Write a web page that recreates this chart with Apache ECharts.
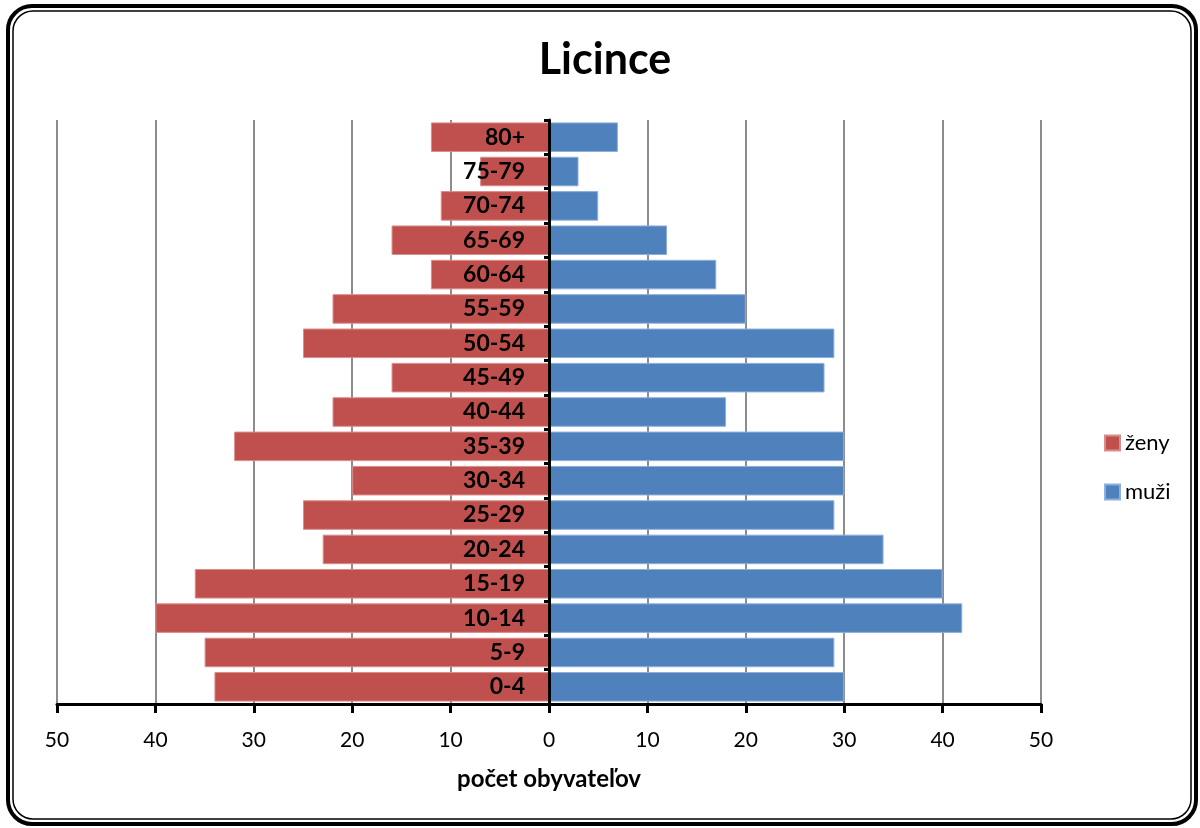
<!DOCTYPE html>
<html>
<head>
<meta charset="utf-8">
<script src="https://cdn.jsdelivr.net/npm/echarts@6/dist/echarts.min.js"></script>
<style>
html,body{margin:0;padding:0;background:#fff;}
#chart{width:1200px;height:828px;}
</style>
</head>
<body>
<div id="chart"></div>
<script>
var categories = ['0-4','5-9','10-14','15-19','20-24','25-29','30-34','35-39','40-44','45-49','50-54','55-59','60-64','65-69','70-74','75-79','80+'];
var zeny = [34,35,40,36,23,25,20,32,22,16,25,22,12,16,11,7,12];
var muzi = [30,29,42,40,34,29,30,30,18,28,29,20,17,12,5,3,7];
var xTicks = { min: -50, max: 50, interval: 10 };
var titleText = 'Licince';
var axisTitle = 'počet obyvateľov';

var FONT = 'Lato, "Open Sans", sans-serif';
var GRID_LEFT = 57, GRID_RIGHT = 159;
var gridWidth = 1200 - GRID_LEFT - GRID_RIGHT;
var chart = echarts.init(document.getElementById('chart'));
chart.setOption({
  backgroundColor: '#fff',
  animation: false,
  title: {
    text: titleText,
    left: 600, top: 34, textAlign: 'center',
    textStyle: { fontFamily: FONT, fontWeight: 'bold', fontSize: 43, color: '#000' }
  },
  legend: {
    orient: 'vertical',
    left: 1099, top: 427,
    itemWidth: 15, itemHeight: 15, itemGap: 27,
    icon: 'rect',
    data: ['ženy', 'muži'],
    textStyle: { fontFamily: FONT, fontSize: 22, color: '#000' }
  },
  grid: { left: GRID_LEFT, right: GRID_RIGHT, top: 120, bottom: 124, containLabel: false, outerBoundsMode: 'none' },
  xAxis: {
    type: 'value',
    min: xTicks.min, max: xTicks.max, interval: xTicks.interval,
    name: axisTitle, nameLocation: 'middle', nameGap: 63,
    nameTextStyle: { fontFamily: FONT, fontWeight: 'bold', fontSize: 24, color: '#000' },
    axisLine: { show: true, onZero: false, lineStyle: { color: '#000', width: 3 } },
    axisTick: { show: true, length: 9, lineStyle: { color: '#000', width: 3 } },
    axisLabel: { fontFamily: FONT, fontSize: 21, color: '#000', margin: 26,
      formatter: function (v) { return Math.abs(v); } },
    splitLine: { show: true, lineStyle: { color: '#8c8c8c', width: 2 } }
  },
  yAxis: {
    type: 'category',
    data: categories,
    position: 'left',
    offset: -gridWidth / 2,
    z: 10,
    axisLine: { show: true, onZero: false, lineStyle: { color: '#000', width: 3 } },
    axisTick: { show: true, length: 5, lineStyle: { color: '#000', width: 3 } },
    axisLabel: { fontFamily: FONT, fontWeight: 'bold', fontSize: 23, color: '#000', margin: 24 },
    splitLine: { show: false }
  },
  series: [
    {
      name: 'ženy', type: 'bar',
      data: zeny.map(function (v) { return -v; }),
      barGap: '-100%', barCategoryGap: '14%',
      itemStyle: { color: '#c0504d', borderColor: '#d98d8b', borderWidth: 1 }
    },
    {
      name: 'muži', type: 'bar',
      data: muzi,
      barGap: '-100%', barCategoryGap: '14%',
      itemStyle: { color: '#4f81bd', borderColor: '#8eaedb', borderWidth: 1 }
    }
  ],
  graphic: [
    { type: 'rect', z: 100, silent: true,
      shape: { x: 8, y: 6, width: 1188, height: 818, r: 24 },
      style: { fill: 'none', stroke: '#000', lineWidth: 4 } },
    { type: 'rect', z: 100, silent: true,
      shape: { x: 13, y: 11, width: 1178, height: 808, r: 20 },
      style: { fill: 'none', stroke: '#000', lineWidth: 1.5 } }
  ]
});
</script>
</body>
</html>
